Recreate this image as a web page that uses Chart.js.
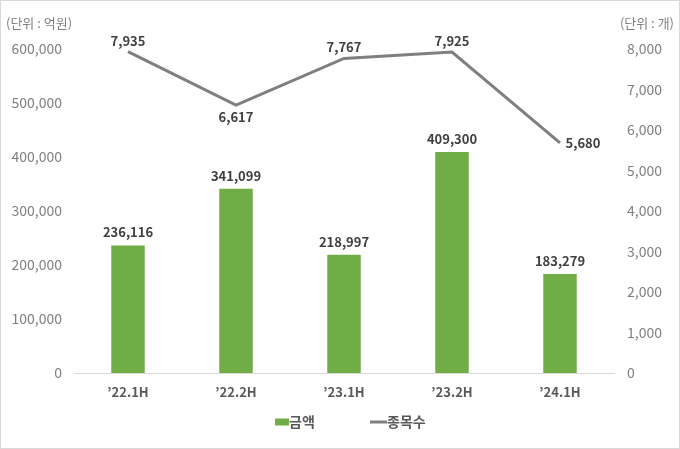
<!DOCTYPE html>
<html>
<head>
<meta charset="utf-8">
<script src="https://cdn.jsdelivr.net/npm/chart.js@4"></script>
<style>
  html, body { margin: 0; padding: 0; background: #fff; }
  canvas { display: block; }
</style>
</head>
<body>
<canvas id="myChart" width="680" height="449"></canvas>
<script>
const categories = ["\u201922.1H", "\u201922.2H", "\u201923.1H", "\u201923.2H", "\u201924.1H"];
const amounts = [236116, 341099, 218997, 409300, 183279];
const counts = [7935, 6617, 7767, 7925, 5680];
// where each count label sits relative to its point
const countLabelPos = ['above', 'below', 'above', 'above', 'right'];

const FONT = "'Noto Sans CJK KR', 'Noto Sans', sans-serif";

const labelsPlugin = {
  id: 'labels',
  beforeDraw(chart) {
    const c = chart.ctx;
    c.save();
    c.strokeStyle = '#d9d9d9';
    c.lineWidth = 1;
    c.strokeRect(0.5, 0.5, chart.width - 1, chart.height - 1);
    c.restore();
  },
  afterDatasetsDraw(chart) {
    const c = chart.ctx;
    c.save();
    c.font = 'bold 13px ' + FONT;
    c.fillStyle = '#404040';
    c.textAlign = 'center';
    c.textBaseline = 'middle';
    chart.getDatasetMeta(1).data.forEach((bar, i) => {
      c.fillText(amounts[i].toLocaleString('en-US'), bar.x, bar.y - 13);
    });
    chart.getDatasetMeta(0).data.forEach((pt, i) => {
      const t = counts[i].toLocaleString('en-US');
      const pos = countLabelPos[i];
      if (pos === 'above') c.fillText(t, pt.x, pt.y - 11);
      else if (pos === 'below') c.fillText(t, pt.x, pt.y + 12);
      else c.fillText(t, pt.x + 23, pt.y);
    });
    // unit titles
    c.font = '13px ' + FONT;
    c.fillStyle = '#7f7f7f';
    c.textAlign = 'left';
    c.fillText('(단위 : 억원)', 6, 23);
    c.textAlign = 'right';
    c.fillText('(단위 : 개)', 674, 23);

    // legend
    const ly = 422;
    c.font = 'bold 14px ' + FONT;
    c.fillStyle = '#70ad47';
    c.fillRect(275, ly - 3.5, 14, 7);
    c.fillStyle = '#595959';
    c.textAlign = 'left';
    c.fillText(chart.data.datasets[1].label, 289, ly);
    c.strokeStyle = '#7f7f7f';
    c.lineWidth = 3;
    c.beginPath();
    c.moveTo(370, ly);
    c.lineTo(387, ly);
    c.stroke();
    c.fillText(chart.data.datasets[0].label, 387, ly);
    c.restore();
  }
};

new Chart(document.getElementById('myChart'), {
  data: {
    labels: categories,
    datasets: [
      {
        type: 'line',
        label: '종목수',
        data: counts,
        yAxisID: 'y1',
        borderColor: '#7f7f7f',
        backgroundColor: '#7f7f7f',
        borderWidth: 3,
        pointRadius: 0,
        tension: 0,
        order: 0
      },
      {
        type: 'bar',
        label: '금액',
        data: amounts,
        yAxisID: 'y',
        backgroundColor: '#70ad47',
        categoryPercentage: 1,
        barPercentage: 0.31,
        order: 1
      }
    ]
  },
  options: {
    responsive: false,
    animation: false,
    layout: { padding: { top: 49, bottom: 36 } },
    plugins: {
      legend: { display: false },
      tooltip: { enabled: false }
    },
    scales: {
      x: {
        grid: { display: false, drawTicks: false },
        border: { color: '#d9d9d9' },
        ticks: { color: '#595959', font: { family: FONT, size: 13, weight: 'bold' }, padding: 11, maxRotation: 0 },
        afterFit(s) { s.height = 40; }
      },
      y: {
        position: 'left',
        min: 0, max: 600000,
        grid: { display: false, drawTicks: false },
        border: { display: false },
        ticks: {
          stepSize: 100000,
          color: '#7f7f7f',
          padding: 12,
          font: { family: FONT, size: 14 },
          callback: v => v.toLocaleString('en-US')
        },
        afterFit(s) { s.width = 74; }
      },
      y1: {
        position: 'right',
        min: 0, max: 8000,
        grid: { display: false, drawTicks: false },
        border: { display: false },
        ticks: {
          stepSize: 1000,
          color: '#7f7f7f',
          padding: 13,
          font: { family: FONT, size: 14 },
          callback: v => v.toLocaleString('en-US')
        },
        afterFit(s) { s.width = 66; }
      }
    }
  },
  plugins: [labelsPlugin]
});
</script>
</body>
</html>
